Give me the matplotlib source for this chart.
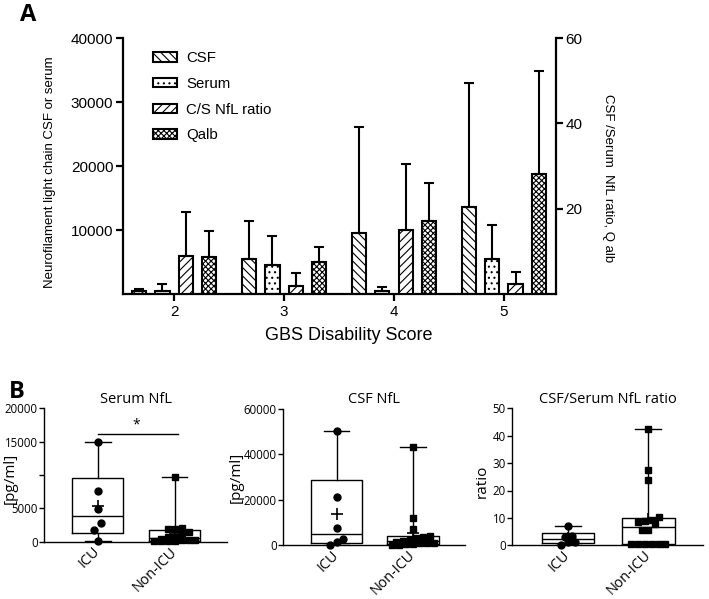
import numpy as np
import matplotlib
matplotlib.use("Agg")
import matplotlib.pyplot as plt

W, H = 709, 599

# ---- panel A : mean + SD per GBS disability score
gbs_score = [2, 3, 4, 5]
csf_nfl = [500, 5470, 9480, 13540]
csf_nfl_sd = [300, 5980, 16660, 19460]
serum_nfl = [500, 4530, 470, 5420]
serum_nfl_sd = [1100, 4470, 630, 5310]
cs_ratio = [9.0, 1.9, 14.9, 2.4]
cs_ratio_sd = [10.2, 3.1, 15.6, 2.8]
qalb = [8.6, 7.5, 17.1, 28.2]
qalb_sd = [6.2, 3.6, 8.8, 24.1]

# ---- panel B : single patients, ICU vs Non-ICU
groups = ["ICU", "Non-ICU"]
serum_icu = [15000, 7650, 4860, 2760, 1750, 100]
serum_non = [9750, 2100, 1860, 1860, 1410, 1000, 750, 750, 400, 300, 250, 200, 150, 100, 100, 50]
csf_icu = [50000, 21300, 7450, 2630, 1580, 0]
csf_non = [43300, 12100, 7000, 4000, 3800, 3200, 2500, 2000, 1500, 1200, 1000, 800, 600, 400, 300, 200]
ratio_icu = [7.0, 3.5, 3.2, 1.3, 1.1, 0.1]
ratio_non = [42.5, 27.3, 24.0, 10.4, 9.1, 9.0, 8.5, 7.6, 5.5, 5.5, 0.3, 0.3, 0.3, 0.3, 0.3, 0.3]

plt.rcParams['font.family'] = ['Liberation Sans', 'DejaVu Sans']
plt.rcParams['hatch.linewidth'] = 0.8

fig = plt.figure(figsize=(W / 100, H / 100), dpi=100)


def add_ax(l, t, r, b):
    return fig.add_axes([l / W, 1 - b / H, (r - l) / W, (b - t) / H])


# ================= panel A =================
ax = add_ax(123, 38, 556, 294)
ax2 = ax.twinx()
x = np.array(gbs_score, float)
bw = 0.13
step = 0.212
lw = 1.5
ekw = dict(elinewidth=1.5, capthick=1.5, ecolor='black')

series = [
    (ax, csf_nfl, csf_nfl_sd, '\\\\\\\\', 'CSF'),
    (ax, serum_nfl, serum_nfl_sd, '...', 'Serum'),
    (ax2, cs_ratio, cs_ratio_sd, '////', 'C/S NfL ratio'),
    (ax2, qalb, qalb_sd, 'xxxxxx', 'Qalb'),
]
handles = []
for i, (a, vals, sd, hatch, name) in enumerate(series):
    pos = x + (i - 1.5) * step
    b = a.bar(pos, vals, bw, yerr=[np.zeros(len(sd)), sd], capsize=3.5,
              color='white', edgecolor='black', linewidth=lw, hatch=hatch,
              error_kw=ekw, label=name)
    handles.append(b)

ax.set_xlim(1.536, 5.473)
ax.set_ylim(0, 40000)
ax2.set_ylim(0, 60)
ax.set_xticks(gbs_score)
ax.set_yticks([10000, 20000, 30000, 40000])
ax2.set_yticks([20, 40, 60])
for s in ['top', 'right']:
    ax.spines[s].set_visible(False)
for s in ['top', 'left', 'bottom']:
    ax2.spines[s].set_visible(False)
for a in (ax, ax2):
    for s in a.spines.values():
        s.set_linewidth(1.6)
    a.tick_params(width=1.6, length=5, labelsize=11)
ax.tick_params(axis='x', pad=3)
ax.tick_params(axis='y', pad=2)
ax2.tick_params(axis='y', pad=2)

ax2.legend(handles=handles, loc='upper left', bbox_to_anchor=(0.069, 0.948),
           frameon=False, fontsize=10.8, handlelength=1.6, handleheight=0.6,
           labelspacing=0.78, borderpad=0, borderaxespad=0, handletextpad=0.6)

fig.text(50 / W, 1 - 172 / H, 'Neurofilament light chain CSF or serum',
         rotation=90, ha='center', va='center', fontsize=9.5)
fig.text(608 / W, 1 - 178 / H, 'CSF /Serum  NfL ratio, Q alb',
         rotation=270, ha='center', va='center', fontsize=9.5)
fig.text(349 / W, 1 - 336 / H, 'GBS Disability Score', ha='center', va='center',
         fontsize=13)
fig.text(28 / W, 1 - 15 / H, 'A', ha='center', va='center', fontsize=17,
         fontweight='bold', family='Open Sans')
fig.text(17 / W, 1 - 392 / H, 'B', ha='center', va='center', fontsize=17,
         fontweight='bold', family='Open Sans')


# ================= panel B =================
def swarm(vals, ytol, dx, maxn=7):
    vals = np.asarray(vals, float)
    order = np.argsort(vals)
    offs = np.zeros(len(vals))
    rows, row, start = [], [], None
    for i in order:
        if row and (vals[i] - start >= ytol or len(row) >= maxn):
            rows.append(row)
            row = []
        if not row:
            start = vals[i]
        row.append(i)
    if row:
        rows.append(row)
    for r in rows:
        m = len(r)
        for j, i in enumerate(r):
            offs[i] = (j - (m - 1) / 2) * dx
    return offs


def box_panel(a, icu, non, ymax, yticks, ylabels, title, width, dx):
    stats = []
    for v in (icu, non):
        v = np.asarray(v, float)
        q1, med, q3 = np.percentile(v, [25, 50, 75], method='weibull')
        stats.append(dict(med=med, q1=q1, q3=q3, whislo=v.min(), whishi=v.max(),
                          mean=v.mean(), fliers=[]))
    kw = dict(color='black', linewidth=1.0)
    a.bxp(stats, positions=[1, 2], widths=width, showmeans=True, showfliers=False,
          boxprops=kw, whiskerprops=kw, capprops=kw, medianprops=kw,
          meanprops=dict(marker='+', markersize=9, markeredgecolor='black',
                         markeredgewidth=1.2), manage_ticks=False)
    a.set_ylim(0, ymax)
    ytol = ymax / 137 * 7
    for k, (v, mk, ms) in enumerate([(icu, 'o', 5), (non, 's', 5)]):
        offs = swarm(v, ytol, dx)
        a.plot(k + 1 + offs, v, mk, color='black', markersize=ms, clip_on=False,
               zorder=4, linestyle='none')
    a.set_xlim(0.3, 2.68)
    a.set_xticks([1, 2], groups, rotation=45, ha='right', va='center',
                 rotation_mode='anchor', fontsize=10.3, family='Open Sans')
    a.set_yticks(yticks, ylabels, fontsize=8.3, family='Open Sans')
    a.tick_params(axis='x', length=0, pad=5.5)
    a.tick_params(axis='y', length=3.5, width=1.0, pad=1)
    for s in ['top', 'right']:
        a.spines[s].set_visible(False)
    for s in ['left', 'bottom']:
        a.spines[s].set_linewidth(1.0)
    a.set_title(title, fontsize=10.5, family='Open Sans', pad=4)


ax_s = add_ax(44, 408.3, 227, 541.7)
box_panel(ax_s, serum_icu, serum_non, 20000,
          [0, 5000, 10000, 15000, 20000], ['0', '5000', '', '15000', '20000'],
          'Serum NfL', 0.66, 0.09)
ax_s.plot([1, 2.04], [16100, 16100], color='black', linewidth=1.0)
ax_s.text(1.5, 16300, '*', ha='center', va='bottom', fontsize=10, family='Open Sans')

ax_c = add_ax(283, 408.5, 465, 545.3)
box_panel(ax_c, csf_icu, csf_non, 60000,
          [0, 20000, 40000, 60000], ['0', '20000', '40000', '60000'],
          'CSF NfL', 0.67, 0.09)

ax_r = add_ax(512, 408.3, 703, 545.3)
box_panel(ax_r, ratio_icu, ratio_non, 50,
          [0, 10, 20, 30, 40, 50], ['0', '10', '20', '30', '40', '50'],
          'CSF/Serum NfL ratio', 0.65, 0.085)

fig.text(10 / W, 1 - 478 / H, '[pg/ml]', rotation=90, ha='center', va='center',
         fontsize=11, family='Open Sans')
fig.text(236 / W, 1 - 477 / H, '[pg/ml]', rotation=90, ha='center', va='center',
         fontsize=11, family='Open Sans')
fig.text(482 / W, 1 - 481 / H, 'ratio', rotation=90, ha='center', va='center',
         fontsize=11, family='Open Sans')

fig.savefig('out.png', dpi=100)
